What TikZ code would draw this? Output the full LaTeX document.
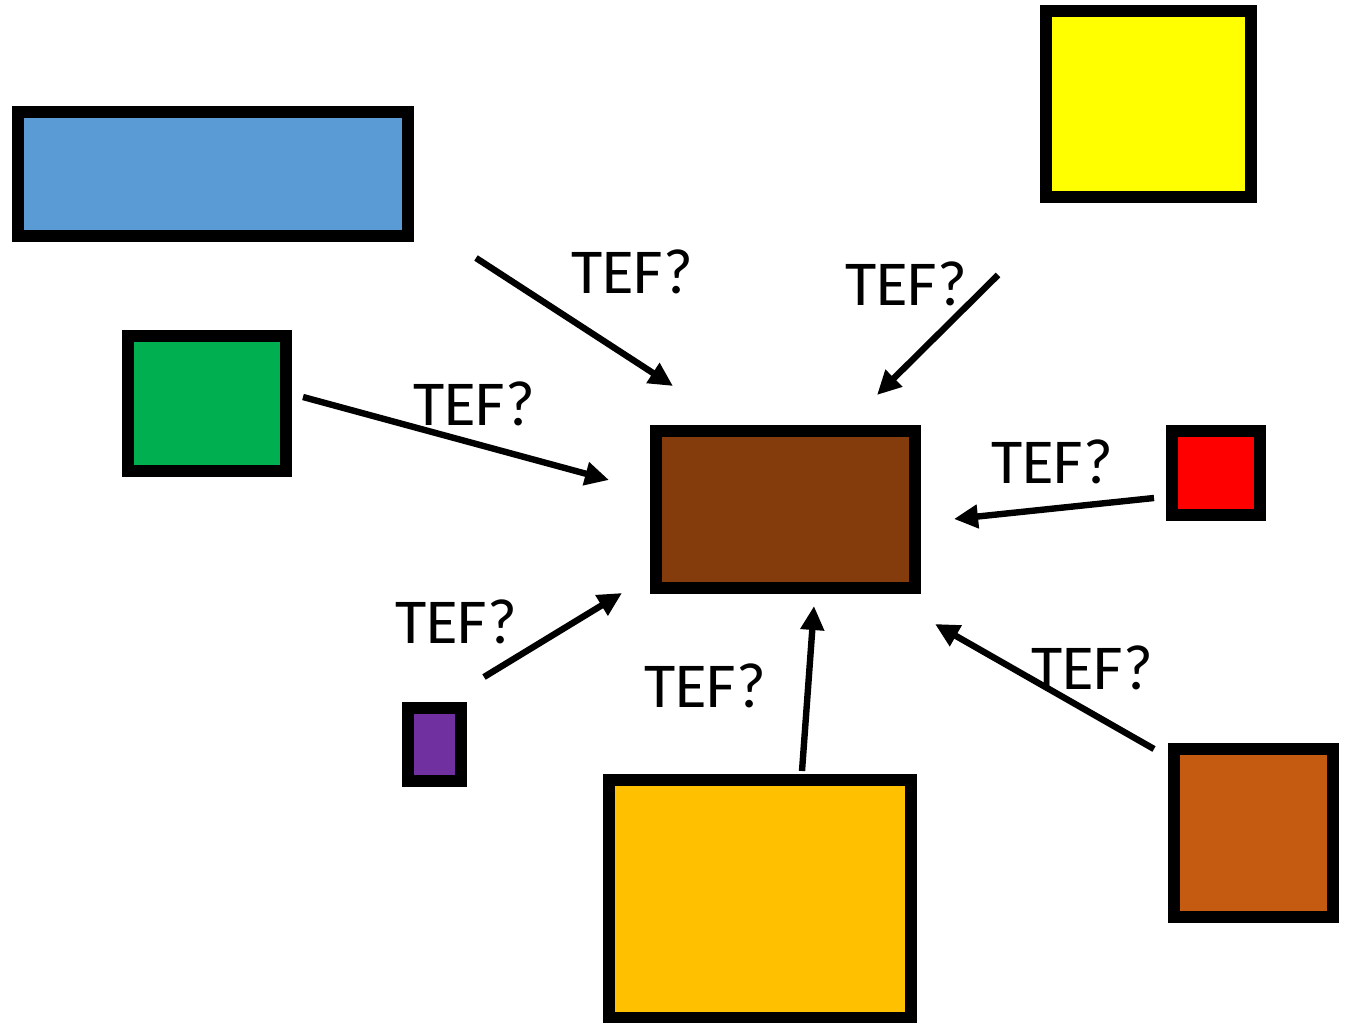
\documentclass[tikz,border=0pt]{standalone}
\usepackage{fontspec}
\setmainfont{Carlito}
\usetikzlibrary{arrows.meta}
\definecolor{cblue}{HTML}{5B9BD5}
\definecolor{cyellow}{HTML}{FFFF00}
\definecolor{cgreen}{HTML}{00B050}
\definecolor{cbrown}{HTML}{843C0C}
\definecolor{cred}{HTML}{FF0000}
\definecolor{cpurple}{HTML}{7030A0}
\definecolor{cgold}{HTML}{FFC000}
\definecolor{corange}{HTML}{C55A11}
\tikzset{
  block/.style={draw=black, line width=9pt, inner sep=0pt, outer sep=0pt, rectangle},
  link/.style={line width=4.8pt, -{Triangle[length=18pt,width=17pt]}},
  tef/.style={font=\fontsize{48}{52}\selectfont, inner sep=0pt}
}
\begin{document}
\begin{tikzpicture}[x=0.75pt, y=-0.75pt]
\useasboundingbox (0,0) rectangle (1348,1023);
% boxes
\node[block, fill=cblue, minimum width=292.5pt, minimum height=93pt] (blue) at (213,174) {};
\node[block, fill=cyellow, minimum width=153.75pt, minimum height=139.5pt] (yellow) at (1148.5,104) {};
\node[block, fill=cgreen, minimum width=118.5pt, minimum height=101.25pt] (green) at (207,403.5) {};
\node[block, fill=cbrown, minimum width=194.25pt, minimum height=117.75pt] (center) at (785.5,509.5) {};
\node[block, fill=cred, minimum width=66pt, minimum height=63pt] (red) at (1216,473) {};
\node[block, fill=cpurple, minimum width=39.75pt, minimum height=54.75pt] (purple) at (434.5,744.5) {};
\node[block, fill=cgold, minimum width=226.5pt, minimum height=178.5pt] (gold) at (760,899) {};
\node[block, fill=corange, minimum width=119.25pt, minimum height=126pt] (orange) at (1253.5,833) {};
% arrow end points
\coordinate (a1s) at (476,258);  \coordinate (a1e) at (673,386);
\coordinate (a2s) at (998,275);  \coordinate (a2e) at (877,395);
\coordinate (a3s) at (303,397);  \coordinate (a3e) at (609,480);
\coordinate (a4s) at (1154,498); \coordinate (a4e) at (954,519);
\coordinate (a5s) at (484,677);  \coordinate (a5e) at (622,593);
\coordinate (a6s) at (802,771);  \coordinate (a6e) at (814,606);
\coordinate (a7s) at (1154,749); \coordinate (a7e) at (935,624);
\draw[link] (a1s) -- (a1e);
\draw[link] (a2s) -- (a2e);
\draw[link] (a3s) -- (a3e);
\draw[link] (a4s) -- (a4e);
\draw[link] (a5s) -- (a5e);
\draw[link] (a6s) -- (a6e);
\draw[link] (a7s) -- (a7e);
% labels
\node[tef] (t1) at (632,272) {TEF?};
\node[tef] (t2) at (906,284) {TEF?};
\node[tef] (t3) at (474,404) {TEF?};
\node[tef] (t4) at (1052,462) {TEF?};
\node[tef] (t5) at (456,622) {TEF?};
\node[tef] (t6) at (705,686) {TEF?};
\node[tef] (t7) at (1092,668) {TEF?};
\end{tikzpicture}
\end{document}
